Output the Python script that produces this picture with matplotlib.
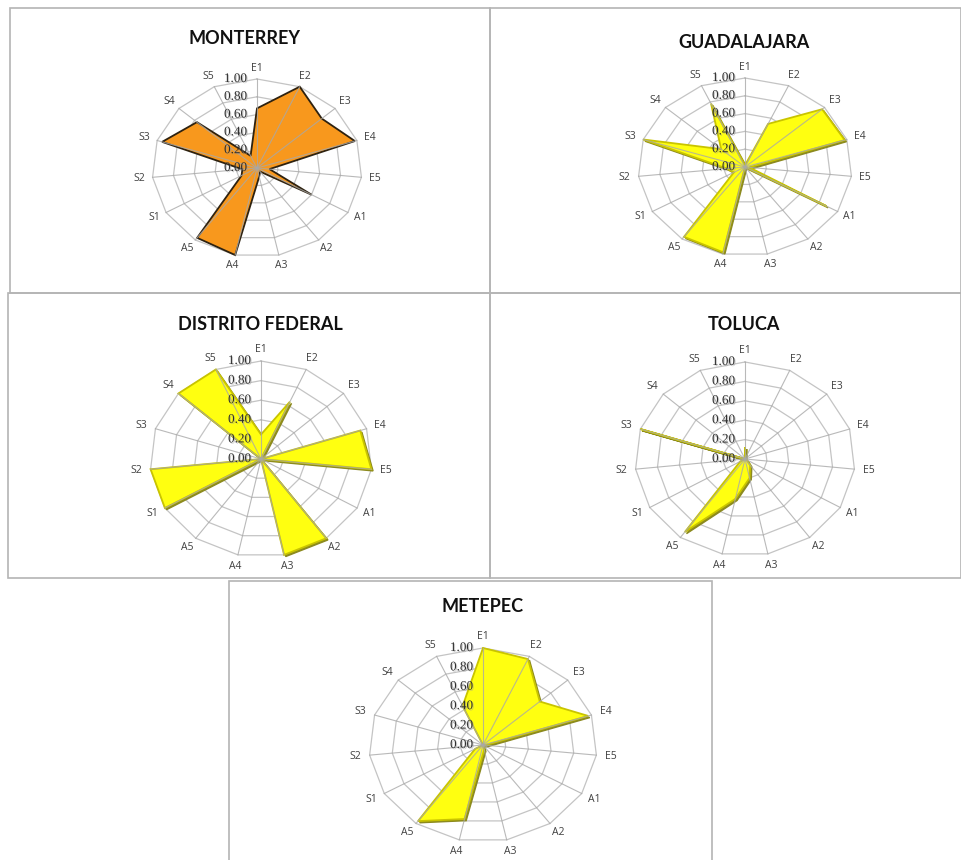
import numpy as np
import matplotlib
matplotlib.use('Agg')
import matplotlib.pyplot as plt
import matplotlib.transforms as mtransforms
import matplotlib.patheffects as pe
from matplotlib.patches import Rectangle

# categories, clockwise from the top
cats = ['E1', 'E2', 'E3', 'E4', 'E5', 'A1', 'A2', 'A3', 'A4', 'A5',
        'S1', 'S2', 'S3', 'S4', 'S5']
ticks = [0.0, 0.2, 0.4, 0.6, 0.8, 1.0]

monterrey = [0.67, 1.00, 0.83, 0.98, 0.12, 0.60, 0.05, 0.10, 1.00, 0.97,
             0.17, 0.14, 0.95, 0.77, 0.15]
guadalajara = [0.02, 0.53, 0.97, 0.98, 0.04, 0.88, 0.00, 0.00, 0.98, 0.97,
               0.12, 0.17, 1.00, 0.30, 0.78]
distrito = [0.25, 0.64, 0.00, 0.94, 1.00, 0.00, 1.00, 1.00, 0.00, 0.00,
            1.00, 1.00, 0.00, 1.00, 1.00]
toluca = [0.12, 0.00, 0.00, 0.00, 0.00, 0.02, 0.08, 0.20, 0.42, 0.93,
          0.05, 0.00, 1.00, 0.00, 0.00]
metepec = [1.00, 0.97, 0.67, 0.97, 0.02, 0.00, 0.00, 0.05, 0.78, 0.97,
           0.08, 0.00, 0.00, 0.00, 0.44]

W, H = 962, 860
fig = plt.figure(figsize=(W / 100, H / 100), dpi=100)
fig.patch.set_facecolor('white')

XL, YL = 1.45, 1.25
theta = 2 * np.pi * np.arange(len(cats)) / len(cats)
tick_fx = [pe.withSimplePatchShadow(offset=(0.8, -0.8), shadow_rgbFace='#9a9a9a', alpha=0.5)]


def panel_box(x0, y0, x1, y1):
  # gray frame round one chart, pixel coords from the top
  fig.patches.append(Rectangle((x0 / W, 1 - y1 / H), (x1 - x0) / W, (y1 - y0) / H,
                               transform=fig.transFigure, fill=False,
                               edgecolor='#b4b4b4', lw=1.2, zorder=0))


def radar(cx, cy, rx, ry, vals, title, tx, ty, face, edge, shade):
  ax = fig.add_axes([(cx - XL * rx) / W, 1 - (cy + YL * ry) / H,
                     2 * XL * rx / W, 2 * YL * ry / H])
  ax.set_xlim(-XL, XL)
  ax.set_ylim(-YL, YL)
  ax.axis('off')

  sx, cy_ = np.sin(theta), np.cos(theta)
  # rings
  for r in ticks[1:]:
    ax.plot(np.append(r * sx, r * sx[0]), np.append(r * cy_, r * cy_[0]),
            color='#c4c4c4', lw=0.9, zorder=1)

  v = np.array(vals)
  px = np.append(v * sx, v[0] * sx[0])
  py = np.append(v * cy_, v[0] * cy_[0])
  if shade:
    sh = mtransforms.offset_copy(ax.transData, fig=fig, x=1.2, y=-1.2, units='points')
    ax.fill(px, py, color=shade, transform=sh, zorder=2)
  ax.fill(px, py, facecolor=face, edgecolor=edge, lw=1.3, zorder=3,
          joinstyle='miter')

  # spokes on top of the fill
  for s, c in zip(sx, cy_):
    ax.plot([0, s], [0, c], color='#a8a8a8', lw=0.8, alpha=0.8, zorder=4)

  for t in ticks:
    ax.annotate('%.2f' % t, xy=(0, t), xytext=(-7, 0), textcoords='offset points',
                ha='right', va='center', fontsize=9.5, family='Liberation Serif',
                color='#2e2e2e', zorder=5, path_effects=tick_fx)

  for lab, s, c in zip(cats, sx, cy_):
    ax.text(1.13 * s, 1.12 * c, lab, ha='center', va='center', fontsize=7.5,
            family='Open Sans', color='#404040')

  fig.text(tx / W, 1 - ty / H, title, ha='center', va='center', fontsize=13,
           fontweight='bold', family='Lato', color='#111111')


panel_box(10, 8, 490, 293)
panel_box(490, 8, 961, 293)
panel_box(8, 293, 490, 578)
panel_box(490, 293, 961, 578)
panel_box(229, 581, 712, 862)

orange, dark = '#F8981D', '#2e2210'
yellow, olive, shadow = '#FFFF10', '#C9C400', '#8C8A1E'

radar(257, 168, 105, 89, monterrey, 'MONTERREY', 245, 38, orange, dark, None)
radar(745, 167, 107, 89, guadalajara, 'GUADALAJARA', 744, 42, yellow, olive, shadow)
radar(261, 459, 111, 98, distrito, 'DISTRITO FEDERAL', 260, 324, yellow, olive, shadow)
radar(745, 459, 110, 97, toluca, 'TOLUCA', 744, 324, yellow, olive, shadow)
radar(483, 745, 114, 97, metepec, 'METEPEC', 483, 606, yellow, olive, shadow)

fig.savefig('out.png', dpi=100, facecolor='white')
